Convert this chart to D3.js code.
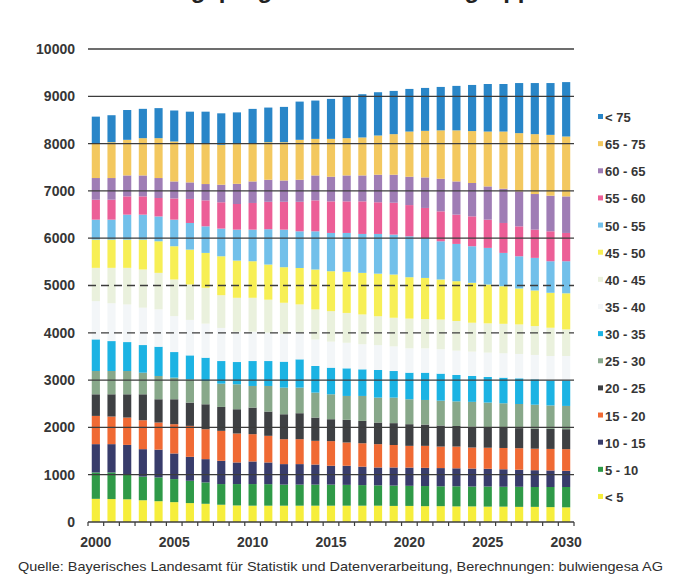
<!DOCTYPE html>
<html>
<head>
<meta charset="utf-8">
<script src="https://cdn.jsdelivr.net/npm/d3@7"></script>
<style>
    html, body { margin: 0; padding: 0; background: #fff; }
    svg { display: block; font-family: "Liberation Sans", Arial, sans-serif; }
</style>
</head>
<body>
<svg id="chart" width="673" height="579"></svg>
<script>
// values, persons per age group, 2000-2030
const years = d3.range(2000, 2031);
const age_groups = ['< 5', '5 - 10', '10 - 15', '15 - 20', '20 - 25', '25 - 30', '30 - 35',
    '35 - 40', '40 - 45', '45 - 50', '50 - 55', '55 - 60', '60 - 65', '65 - 75', '< 75'];
const y_ticks = [0, 1000, 2000, 3000, 4000, 5000, 6000, 7000, 8000, 9000, 10000];
const dashed_ticks = [4000, 5000];
const year_labels = [2000, 2005, 2010, 2015, 2020, 2025, 2030];

const age_0_5 = [490, 485, 480, 460, 440, 420, 400, 385, 365, 350, 345, 345, 345, 345, 345, 345,
    345, 345, 345, 340, 340, 335, 335, 330, 330, 325, 325, 320, 320, 315, 310];
const age_5_10 = [558, 563, 533, 500, 503, 487, 472, 452, 437, 452, 457, 455, 445, 445, 445, 445,
    440, 435, 430, 430, 425, 425, 420, 425, 420, 425, 420, 425, 420, 425, 430];
const age_10_15 = [598, 598, 617, 580, 587, 542, 506, 492, 492, 457, 478, 459, 434, 434, 425, 399,
    404, 390, 378, 383, 385, 385, 385, 380, 380, 375, 370, 360, 355, 350, 343];
const age_15_20 = [597, 584, 578, 612, 573, 619, 654, 633, 633, 612, 577, 563, 527, 527, 501, 521,
    492, 495, 493, 475, 460, 465, 455, 460, 445, 445, 450, 455, 455, 455, 457];
const age_20_25 = [457, 470, 492, 548, 492, 527, 493, 527, 506, 513, 562, 513, 527, 549, 492, 463,
    479, 473, 457, 462, 458, 450, 445, 435, 440, 427, 425, 425, 425, 423, 422];
const age_25_30 = [492, 492, 492, 457, 492, 457, 492, 492, 492, 527, 457, 541, 563, 541, 528, 527,
    505, 527, 527, 540, 527, 520, 525, 520, 525, 528, 520, 510, 505, 497, 492];
const age_30_35 = [669, 633, 612, 584, 619, 541, 506, 493, 478, 471, 527, 527, 549, 598, 562, 563,
    584, 563, 584, 562, 562, 577, 572, 558, 547, 541, 542, 543, 537, 530, 541];
const age_35_40 = [808, 800, 795, 790, 790, 760, 750, 720, 700, 640, 620, 600, 590, 570, 560, 550,
    540, 530, 525, 520, 515, 515, 515, 515, 515, 515, 515, 515, 515, 515, 515];
const age_40_45 = [704, 748, 774, 807, 771, 774, 748, 757, 692, 718, 717, 697, 655, 591, 636, 645,
    631, 630, 611, 606, 628, 618, 628, 627, 611, 619, 623, 624, 610, 597, 562];
const age_45_50 = [597, 597, 597, 632, 668, 703, 738, 738, 823, 787, 773, 743, 752, 770, 844, 844,
    870, 879, 900, 914, 875, 870, 847, 841, 844, 821, 795, 760, 753, 739, 763];
const age_50_55 = [422, 422, 528, 528, 525, 562, 563, 562, 585, 654, 668, 747, 794, 776, 808, 809,
    821, 823, 840, 844, 865, 840, 808, 788, 773, 774, 704, 681, 689, 667, 678];
const age_55_60 = [422, 422, 386, 386, 390, 448, 508, 549, 557, 542, 564, 580, 589, 624, 654, 668,
    668, 689, 670, 674, 660, 640, 633, 619, 632, 597, 633, 633, 597, 633, 598];
const age_60_65 = [458, 458, 443, 443, 422, 360, 350, 345, 371, 427, 455, 466, 450, 466, 527, 521,
    548, 548, 582, 592, 600, 645, 689, 702, 705, 703, 724, 739, 753, 753, 773];
const age_65_75 = [738, 758, 753, 788, 843, 845, 830, 845, 844, 840, 810, 794, 810, 844, 773, 800,
    788, 803, 829, 858, 955, 985, 1023, 1080, 1098, 1160, 1209, 1231, 1266, 1286, 1266];
const age_75_up = [560, 570, 630, 620, 635, 655, 665, 685, 665, 670, 724, 732, 746, 808, 810, 845,
    893, 914, 915, 914, 901, 907, 918, 940, 975, 1005, 1005, 1059, 1080, 1095, 1150];

const series_values = [age_0_5, age_5_10, age_10_15, age_15_20, age_20_25, age_25_30, age_30_35,
    age_35_40, age_40_45, age_45_50, age_50_55, age_55_60, age_60_65, age_65_75, age_75_up];

const colours = ['#f6ee3c', '#2f9a48', '#383c6b', '#f06a34', '#3e4043', '#88a88a', '#1cb3e3',
    '#f3f6f8', '#eaf1dd', '#f7ef55', '#72c0ea', '#ec5f97', '#9f7db5', '#f3c85f', '#2986c8'];


function draw_chart() {
    const svg = d3.select('#chart');
    const left = 88;
    const right = 574;
    const top = 49;
    const bottom = 522;
    const text_colour = '#363636';

    const table = years.map((year, i) => {
        const row = {year: year};
        age_groups.forEach((group, k) => { row[group] = series_values[k][i]; });
        return row;
    });
    const stacked = d3.stack().keys(age_groups)(table);

    const x = d3.scaleBand().domain(years).range([left, right]).paddingInner(0.48).paddingOuter(0.24);
    const y = d3.scaleLinear().domain([0, 10000]).range([bottom, top]);
    const colour = d3.scaleOrdinal().domain(age_groups).range(colours);

    // title, cut off by the top edge of the scan
    svg.append('text')
        .attr('x', 60)
        .attr('y', -2)
        .attr('font-size', 24)
        .attr('font-weight', 'bold')
        .attr('fill', '#222')
        .text('Bevölkerungsprognose nach Altersgruppen');

    // bars
    svg.append('g')
        .selectAll('g')
        .data(stacked)
        .join('g')
        .attr('fill', d => colour(d.key))
        .selectAll('rect')
        .data(d => d)
        .join('rect')
        .attr('x', d => x(d.data.year))
        .attr('width', x.bandwidth())
        .attr('y', d => y(d[1]))
        .attr('height', d => y(d[0]) - y(d[1]));

    // grid lines drawn over the bars, as in the original
    svg.append('g')
        .selectAll('line')
        .data(y_ticks)
        .join('line')
        .attr('x1', left)
        .attr('x2', right)
        .attr('y1', d => y(d))
        .attr('y2', d => y(d))
        .attr('stroke', '#3c3c3c')
        .attr('stroke-width', 1.3)
        .attr('stroke-dasharray', d => dashed_ticks.includes(d) ? '8,5' : null);

    // y labels
    const y_axis = d3.axisLeft(y).tickValues(y_ticks).tickSize(0).tickPadding(13).tickFormat(d3.format('d'));
    svg.append('g')
        .attr('transform', `translate(${left},0)`)
        .call(y_axis)
        .call(g => g.select('.domain').remove())
        .selectAll('text')
        .attr('font-size', 14)
        .attr('font-weight', 'bold')
        .attr('font-family', '"Liberation Sans", Arial, sans-serif')
        .attr('fill', text_colour);

    // x axis: tick marks between bars, labels every 5 years
    const boundaries = years.map(yr => x(yr) - x.step() * x.paddingInner() / 2).concat([right]);
    svg.append('g')
        .selectAll('line')
        .data(boundaries)
        .join('line')
        .attr('x1', d => d)
        .attr('x2', d => d)
        .attr('y1', bottom)
        .attr('y2', bottom + 4)
        .attr('stroke', '#3c3c3c')
        .attr('stroke-width', 1.2);

    svg.append('g')
        .selectAll('text')
        .data(year_labels)
        .join('text')
        .attr('x', d => x(d) + x.bandwidth() / 2)
        .attr('y', 547)
        .attr('text-anchor', 'middle')
        .attr('font-size', 14)
        .attr('font-weight', 'bold')
        .attr('fill', text_colour)
        .text(d => d);

    // legend, top group first
    const legend = svg.append('g')
        .selectAll('g')
        .data(age_groups.slice().reverse())
        .join('g')
        .attr('transform', (d, i) => `translate(598, ${117 + i * 27.14})`);
    legend.append('rect')
        .attr('x', 0)
        .attr('y', -3)
        .attr('width', 5)
        .attr('height', 5)
        .attr('fill', d => colour(d));
    legend.append('text')
        .attr('x', 7)
        .attr('y', 5)
        .attr('font-size', 13)
        .attr('font-weight', 'bold')
        .attr('fill', text_colour)
        .text(d => d);

    // source line
    svg.append('text')
        .attr('x', 18)
        .attr('y', 571)
        .attr('font-size', 13)
        .attr('fill', '#2e2e2e')
        .attr('textLength', 645)
        .attr('lengthAdjust', 'spacingAndGlyphs')
        .text('Quelle: Bayerisches Landesamt für Statistik und Datenverarbeitung, Berechnungen: bulwiengesa AG');
}


draw_chart();
</script>
</body>
</html>
